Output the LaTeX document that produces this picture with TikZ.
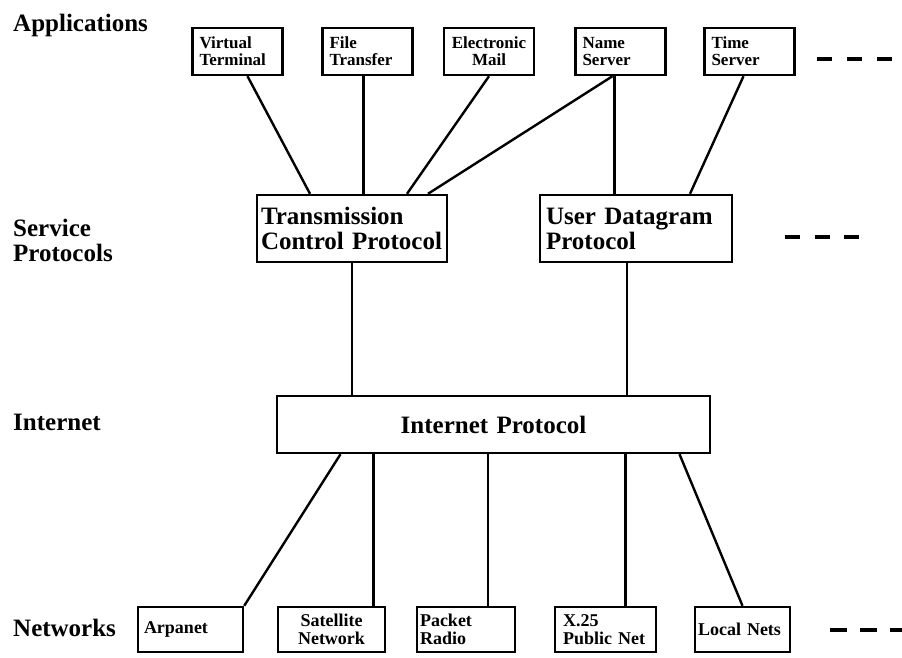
\documentclass[tikz,border=0pt]{standalone}
\usepackage{fontspec}
\setmainfont{Liberation Serif}
\usepackage{tikz}
\usetikzlibrary{calc}
\tikzstyle{layer}=[anchor=base west, inner sep=0pt, font=\fontsize{25}{24}\selectfont\bfseries]
\tikzstyle{box}=[draw, line width=2.4pt, inner ysep=0pt, align=left]
\tikzstyle{appbox}=[box, minimum height=47pt, inner xsep=7pt, text width=76pt, font=\fontsize{17}{17}\selectfont\bfseries]
\tikzstyle{protobox}=[box, minimum height=67pt, inner xsep=4pt, font=\fontsize{25}{25}\selectfont\bfseries]
\tikzstyle{netbox}=[box, minimum height=45pt, inner xsep=3pt, font=\fontsize{18}{18}\selectfont\bfseries]
\tikzstyle{link}=[line width=2.4pt]
\tikzstyle{more}=[line width=3.5pt]

\begin{document}
\begin{tikzpicture}[x=1pt, y=-1pt]
  \useasboundingbox (0,0) rectangle (902,658);

  % layers
  \node (apps)[layer] at (13,32) {Applications};
  \node (svc)[layer, anchor=west, align=left, font=\fontsize{25}{25}\selectfont\bfseries] at (13,240) {Service\\Protocols};
  \node (inet)[layer] at (13,430) {Internet};
  \node (nets)[layer] at (13,636) {Networks};

  % applications
  \node (vt)[appbox] at (237.5,51.5) {Virtual\\Terminal};
  \node (ft)[appbox] at (367.5,51.5) {File\\Transfer};
  \node (em)[appbox, align=center] at (489,51.5) {Electronic\\Mail};
  \node (ns)[appbox] at (620.5,51.5) {Name\\Server};
  \node (ts)[appbox] at (749.5,51.5) {Time\\Server};

  % service protocols
  \node (tcp)[protobox, text width=182pt] at (352,228.5) {Transmission\\Control Protocol};
  \node (udp)[protobox, text width=180pt, inner xsep=6pt] at (636,228.5) {User Datagram\\Protocol};

  % internet
  \node (ip)[box, minimum height=57pt, text width=425pt, inner xsep=4pt, align=center, font=\fontsize{25}{25}\selectfont\bfseries] at (493.5,424.5) {Internet Protocol};

  % networks
  \node (arp)[netbox, text width=93pt, inner xsep=6pt] at (190.5,629.5) {Arpanet};
  \node (sat)[netbox, text width=101pt, align=center] at (331.5,629.5) {Satellite\\Network};
  \node (pkt)[netbox, text width=92pt] at (466,629.5) {Packet\\Radio};
  \node (x25)[netbox, text width=85pt, inner xsep=8pt] at (605.5,629.5) {X.25\\Public Net};
  \node (lan)[netbox, text width=89pt] at (742.5,629.5) {Local Nets};

  % more of the same
  \coordinate (a1) at (817,59);  \coordinate (a2) at (892,59);
  \coordinate (s1) at (785,237); \coordinate (s2) at (859,237);
  \coordinate (n1) at (830,630); \coordinate (n2) at (902,630);
  \draw[more, dash pattern=on 15pt off 15pt] (a1) -- (a2);
  \draw[more, dash pattern=on 15pt off 14.5pt] (s1) -- (s2);
  \draw[more, dash pattern=on 17pt off 13pt] (n1) -- (n2);

  % applications to service protocols
  \draw[link] ([xshift=10pt]vt.south) -- ([xshift=-42pt]tcp.north);
  \draw[link] ([xshift=-4pt]ft.south) -- ([xshift=-4pt]ft.south |- tcp.north);
  \draw[link] (em.south) -- ([xshift=55pt]tcp.north);
  \draw[link] ([xshift=-8pt]ns.south) -- ([xshift=76pt]tcp.north);
  \draw[link] ([xshift=-6pt]ns.south) -- ([xshift=-6pt]ns.south |- udp.north);
  \draw[link] ([xshift=-6pt]ts.south) -- ([xshift=54pt]udp.north);

  % service protocols to internet
  \draw[link] (tcp.south) -- (tcp.south |- ip.north);
  \draw[link] ([xshift=-9pt]udp.south) -- ([xshift=-9pt]udp.south |- ip.north);

  % internet to networks
  \draw[link] ([xshift=-153pt]ip.south) -- (arp.north east);
  \draw[link] ([xshift=42pt]sat.north) -- ([xshift=42pt]sat.north |- ip.south);
  \draw[link] ([xshift=22pt]pkt.north) -- ([xshift=22pt]pkt.north |- ip.south);
  \draw[link] ([xshift=20pt]x25.north) -- ([xshift=20pt]x25.north |- ip.south);
  \draw[link] ([xshift=186pt]ip.south) -- (lan.north);
\end{tikzpicture}
\end{document}
